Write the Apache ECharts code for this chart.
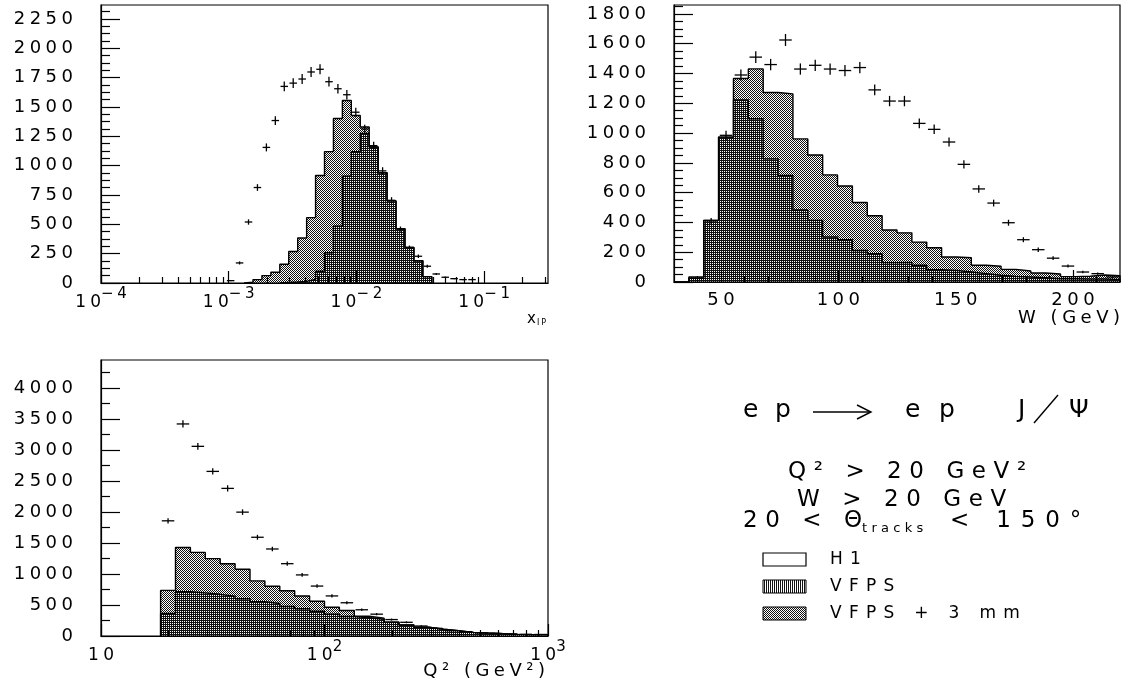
<!DOCTYPE html>
<html>
<head>
<meta charset="utf-8">
<title>VFPS acceptance</title>
<script src="https://cdn.jsdelivr.net/npm/echarts@6.0.0/dist/echarts.min.js"></script>
<style>
  html, body { margin: 0; padding: 0; background: #fff; }
  #chart { width: 1125px; height: 688px; }
</style>
</head>
<body>
<div id="chart"></div>
<script>
// ---------- data ----------
// x_IP : 50 bins, log10 from -4 to -0.5
const xipBins = { log: true, nbins: 50, lo: -4, hi: -0.5 };
const xipLightFirst = 16;   // VFPS + 3 mm
const xipLight = [6, 29, 63, 92, 160, 268, 383, 557, 916, 1120, 1403, 1556, 1428, 1330, 1160, 940, 700, 462, 303, 190, 54];
const xipDarkFirst = 20;    // VFPS
const xipDark = [4, 8, 14, 30, 100, 258, 485, 910, 1120, 1276, 1160, 940, 700, 462, 303, 190, 54];
const xipH1First = 14;      // H1 points
const xipH1 = [20, 171, 520, 814, 1156, 1385, 1676, 1704, 1739, 1799, 1822, 1716, 1656, 1605, 1456, 1313, 1171, 956, 705, 460, 302, 228, 143, 77, 49, 37, 29, 29];

// W : 30 bins from 30 to 220 GeV
const wBins = { log: false, nbins: 30, lo: 30, hi: 220 };
const wLight = [0, 34, 414, 973, 1366, 1431, 1272, 1263, 961, 853, 719, 645, 534, 445, 349, 330, 268, 230, 168, 163, 112, 106, 85, 74, 60, 54, 36, 39, 47, 42];
const wDark = [0, 25, 414, 973, 1223, 1096, 827, 716, 483, 414, 302, 284, 212, 190, 130, 132, 112, 83, 78, 67, 56, 45, 38, 34, 29, 22, 22, 20, 20, 16];
const wH1First = 2;
const wH1 = [410, 985, 1390, 1510, 1460, 1625, 1430, 1455, 1430, 1420, 1440, 1290, 1215, 1215, 1065, 1025, 940, 790, 625, 530, 398, 284, 217, 160, 107, 67, 56, 34];

// Q2 : 30 bins, log10 from 1 to 3
const q2Bins = { log: true, nbins: 30, lo: 1, hi: 3 };
const q2First = 4;
const q2Light = [735, 1427, 1348, 1247, 1165, 1077, 888, 803, 730, 646, 560, 463, 412, 318, 288, 221, 178, 140, 108, 86, 59, 48, 38, 27, 22, 22];
const q2Dark = [363, 714, 695, 672, 640, 600, 555, 525, 475, 440, 400, 350, 315, 295, 270, 221, 178, 140, 108, 86, 59, 48, 38, 27, 22, 20];
const q2H1 = [1857, 3419, 3058, 2654, 2380, 1997, 1592, 1403, 1166, 985, 805, 646, 536, 423, 352, 265, 221, 161, 124, 86, 70, 50, 40, 32, 28, 25];

// tick labels
const xipTicks = [1e-4, 1e-3, 1e-2, 1e-1];
const wTicks = [50, 100, 150, 200];
const q2Ticks = [10, 100, 1000];
const xipYTicks = [0, 250, 500, 750, 1000, 1250, 1500, 1750, 2000, 2250];
const wYTicks = [0, 200, 400, 600, 800, 1000, 1200, 1400, 1600, 1800];
const q2YTicks = [0, 500, 1000, 1500, 2000, 2500, 3000, 3500, 4000];

// ---------- helpers ----------
const FONT = '"DejaVu Sans", sans-serif';
const SP = '\u2005';
function spaced(s, gap) { return Array.from(s).join(gap || SP); }

function edge(b, i) {
  const t = b.lo + i * (b.hi - b.lo) / b.nbins;
  return b.log ? Math.pow(10, t) : t;
}
function center(b, i) {
  const t = b.lo + (i + 0.5) * (b.hi - b.lo) / b.nbins;
  return b.log ? Math.pow(10, t) : t;
}
// step outline of a histogram
function stepData(b, first, vals) {
  const d = [[edge(b, first), 0]];
  vals.forEach(function (v, j) { d.push([edge(b, first + j), v]); });
  d.push([edge(b, first + vals.length), 0]);
  return d;
}
// points with poisson errors
function pointData(b, first, vals) {
  return vals.map(function (v, j) {
    const k = first + j;
    return [center(b, k), v, edge(b, k), edge(b, k + 1), Math.sqrt(v)];
  });
}
function logMinors(minExp, maxExp, max) {
  const out = [];
  for (let e = minExp; e <= maxExp; e++)
    for (let m = 2; m <= 9; m++) { const v = m * Math.pow(10, e); if (v < max) out.push(v); }
  return out;
}
function linMinors(step, major, max) {
  const out = [];
  for (let v = step; v < max; v += step) if (Math.abs(v / major - Math.round(v / major)) > 1e-6) out.push(v);
  return out;
}
function pattern(fn) {
  const c = document.createElement('canvas');
  c.width = 4; c.height = 4;
  const g = c.getContext('2d');
  g.fillStyle = '#111';
  for (let y = 0; y < 4; y++) for (let x = 0; x < 4; x++) if (fn(x, y)) g.fillRect(x, y, 1, 1);
  return { image: c, repeat: 'repeat' };
}
const checkFill = pattern(function (x, y) { return (x + y) % 2 === 0; });
const rowFill = pattern(function (x, y) { return y % 2 === 0; });
const stripeFill = pattern(function (x, y) { return x % 2 === 0; });

function decadeLabel(v) {
  const e = Math.round(Math.log10(v));
  if (e === 1) return '{b|' + spaced('10') + '}';
  return '{b|' + spaced('10') + '}{s|' + spaced((e < 0 ? '\u2212' : '') + Math.abs(e)) + '}';
}
const decadeRich = {
  b: { fontFamily: FONT, fontSize: 17, color: '#000', verticalAlign: 'bottom', lineHeight: 24 },
  s: { fontFamily: FONT, fontSize: 15, color: '#000', verticalAlign: 'top', lineHeight: 24 }
};

const tickStyle = { color: '#000', width: 1.2 };
function xAxes(grid, type, min, max, majors, minors, fmt, rich, margin) {
  const base = { type: type, gridIndex: grid, min: min, max: max, position: 'bottom', z: 10, splitLine: { show: false } };
  if (type === 'log') base.logBase = 10;
  return [
    Object.assign({}, base, {
      axisLine: { show: true, onZero: false, lineStyle: tickStyle },
      axisTick: { show: true, inside: true, length: 12, customValues: majors, lineStyle: tickStyle },
      axisLabel: { show: true, customValues: majors, formatter: fmt, rich: rich, margin: margin,
                   color: '#000', fontFamily: FONT, fontSize: 18 }
    }),
    Object.assign({}, base, {
      axisLine: { show: false },
      axisTick: { show: true, inside: true, length: 6, customValues: minors, lineStyle: tickStyle },
      axisLabel: { show: false }
    })
  ];
}
function yAxes(grid, max, majors, minors) {
  const base = { type: 'value', gridIndex: grid, min: 0, max: max, position: 'left', z: 10, splitLine: { show: false } };
  return [
    Object.assign({}, base, {
      axisLine: { show: true, onZero: false, lineStyle: tickStyle },
      axisTick: { show: true, inside: true, length: 19, customValues: majors, lineStyle: tickStyle },
      axisLabel: { show: true, customValues: majors, margin: 28, color: '#000', fontFamily: FONT, fontSize: 18,
                   formatter: function (v) { return spaced(String(Math.round(v))); } }
    }),
    Object.assign({}, base, {
      axisLine: { show: false },
      axisTick: { show: true, inside: true, length: 9, customValues: minors, lineStyle: tickStyle },
      axisLabel: { show: false }
    })
  ];
}

function histSeries(axisIdx, data, fill, z) {
  return {
    type: 'line', xAxisIndex: axisIdx, yAxisIndex: axisIdx, data: data, step: 'end',
    symbol: 'none', silent: true, z: z,
    lineStyle: { color: '#000', width: 1.4 },
    areaStyle: { color: fill, opacity: 1 }
  };
}
function pointSeries(axisIdx, data) {
  return {
    type: 'custom', xAxisIndex: axisIdx, yAxisIndex: axisIdx, data: data, z: 6, silent: true,
    encode: { x: 0, y: 1 },
    renderItem: function (params, api) {
      const c = api.coord([api.value(0), api.value(1)]);
      const lo = api.coord([api.value(2), api.value(1)])[0];
      const hi = api.coord([api.value(3), api.value(1)])[0];
      const half = (hi - lo) * 0.42;
      const e = api.value(4);
      const top = api.coord([api.value(0), api.value(1) + e])[1];
      const bot = api.coord([api.value(0), Math.max(0, api.value(1) - e)])[1];
      const st = { stroke: '#000', lineWidth: 1.3 };
      return { type: 'group', children: [
        { type: 'line', shape: { x1: c[0] - half, y1: c[1], x2: c[0] + half, y2: c[1] }, style: st },
        { type: 'line', shape: { x1: c[0], y1: top, x2: c[0], y2: bot }, style: st }
      ] };
    }
  };
}

function txt(x, y, text, size, align) {
  return { type: 'text', x: x, y: y, silent: true, z: 20,
    style: { text: text, fill: '#000', font: size + 'px ' + FONT, textAlign: align || 'left', textVerticalAlign: 'middle' } };
}
function stroke(points) {
  return { type: 'polyline', silent: true, z: 20, shape: { points: points }, style: { stroke: '#000', lineWidth: 1.4, fill: null } };
}
const G3 = '\u2004';            // 1/3 em
const G4 = '\u2004\u200a';      // a bit wider

// ---------- chart ----------
const chart = echarts.init(document.getElementById('chart'), null, { renderer: 'canvas' });

const gridStyle = { show: true, borderColor: '#000', borderWidth: 1.2, backgroundColor: 'transparent', containLabel: false, outerBoundsMode: 'none' };

const option = {
  animation: false,
  backgroundColor: '#fff',
  grid: [
    Object.assign({ left: 101, top: 5, width: 447, height: 278 }, gridStyle),
    Object.assign({ left: 674, top: 5, width: 446, height: 277 }, gridStyle),
    Object.assign({ left: 101, top: 360, width: 447, height: 276 }, gridStyle)
  ],
  xAxis: [].concat(
    xAxes(0, 'log', 1e-4, Math.pow(10, -0.5), xipTicks, logMinors(-4, -1, Math.pow(10, -0.5)), decadeLabel, decadeRich, 4),
    xAxes(1, 'value', 30, 220, wTicks, linMinors(10, 50, 220).filter(function (v) { return v > 30; }),
          function (v) { return spaced(String(v)); }, null, 9),
    xAxes(2, 'log', 10, 1000, q2Ticks, logMinors(1, 2, 1000), decadeLabel, decadeRich, 4)
  ),
  yAxis: [].concat(
    yAxes(0, 2370, xipYTicks, linMinors(62.5, 250, 2370)),
    yAxes(1, 1860, wYTicks, linMinors(50, 200, 1860)),
    yAxes(2, 4450, q2YTicks, linMinors(250, 500, 4450))
  ),
  series: [
    histSeries(0, stepData(xipBins, xipLightFirst, xipLight), checkFill, 2),
    histSeries(0, stepData(xipBins, xipDarkFirst, xipDark), rowFill, 3),
    pointSeries(0, pointData(xipBins, xipH1First, xipH1)),

    histSeries(2, stepData(wBins, 0, wLight), checkFill, 2),
    histSeries(2, stepData(wBins, 0, wDark), rowFill, 3),
    pointSeries(2, pointData(wBins, wH1First, wH1)),

    histSeries(4, stepData(q2Bins, q2First, q2Light), checkFill, 2),
    histSeries(4, stepData(q2Bins, q2First, q2Dark), rowFill, 3),
    pointSeries(4, pointData(q2Bins, q2First, q2H1))
  ],
  graphic: [
    // axis titles
    txt(527, 319, 'x', 15),
    txt(537, 323, spaced('IP'), 8),
    txt(1120, 318, spaced('W (GeV)'), 18, 'right'),
    txt(545, 671, spaced('Q\u00b2 (GeV\u00b2)'), 18, 'right'),
    // process: e p -> e p J/psi
    txt(743, 410, 'e', 25),
    txt(775, 410, 'p', 25),
    stroke([[813, 412], [870, 412]]),
    stroke([[857, 405], [871, 412], [857, 419]]),
    txt(905, 410, 'e', 25),
    txt(939, 410, 'p', 25),
    txt(1018, 410, 'J', 25),
    stroke([[1034, 423], [1058, 395]]),
    txt(1069, 410, '\u03a8', 25),
    // cuts
    txt(788, 472, spaced('Q\u00b2 > 20 GeV\u00b2', G3), 23),
    txt(797, 500, spaced('W > 20 GeV', G3), 23),
    txt(743, 521, spaced('20 < \u0398', G3), 23),
    txt(862, 529, spaced('tracks', G3), 13),
    txt(950, 521, spaced('< 150\u00b0', G4), 23),
    // legend
    { type: 'rect', silent: true, shape: { x: 763, y: 553, width: 43, height: 13 }, style: { fill: '#fff', stroke: '#000', lineWidth: 1.2 }, z: 20 },
    { type: 'rect', silent: true, shape: { x: 763, y: 580, width: 43, height: 13 }, style: { fill: stripeFill, stroke: '#000', lineWidth: 1 }, z: 20 },
    { type: 'rect', silent: true, shape: { x: 763, y: 607, width: 43, height: 13 }, style: { fill: checkFill, stroke: '#000', lineWidth: 1 }, z: 20 },
    txt(830, 560, spaced('H1', G4), 17),
    txt(830, 587, spaced('VFPS', G4), 17),
    txt(830, 614, spaced('VFPS + 3 mm', G4), 17)
  ]
};

chart.setOption(option);
</script>
</body>
</html>
